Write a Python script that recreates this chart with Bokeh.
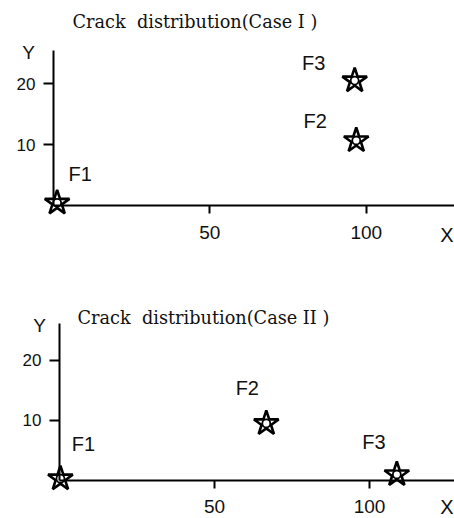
from bokeh.plotting import figure
from bokeh.layouts import column
from bokeh.models import LinearAxis, FixedTicker, Label, ColumnDataSource
from bokeh.core.properties import value
from bokeh.embed import file_html
from bokeh.resources import INLINE

# Crack positions, case I
case1_names = ["F1", "F2", "F3"]
case1_x = [1.2, 96.8, 96.3]
case1_y = [0.5, 10.7, 20.5]

# Crack positions, case II
case2_names = ["F1", "F2", "F3"]
case2_x = [0.3, 66.7, 108.8]
case2_y = [0.3, 9.5, 1.0]

x_ticks = [50, 100]
y_ticks = [10, 20]

SANS = "Liberation Sans"
SERIF = "DejaVu Serif"
INK = "#111111"


def crack_panel(title, names, xs, ys, x_range, y_range, y_axis_top,
                label_dx, label_dy, title_pos, ylab_pos, xlab_pos):
    p = figure(width=454, height=259, x_range=x_range, y_range=y_range,
               x_axis_type=None, y_axis_type=None,
               output_backend="svg", toolbar_location=None,
               min_border=0, outline_line_color=None,
               background_fill_color="white", border_fill_color="white")
    p.grid.visible = False

    xaxis = LinearAxis(fixed_location=0, ticker=FixedTicker(ticks=x_ticks),
                       bounds=(0, x_range[1]))
    yaxis = LinearAxis(fixed_location=0, ticker=FixedTicker(ticks=y_ticks),
                       bounds=(0, y_axis_top))
    for ax in (xaxis, yaxis):
        ax.axis_line_width = 2
        ax.axis_line_color = "black"
        ax.major_tick_line_width = 2
        ax.major_tick_line_color = "black"
        ax.major_tick_in = 0
        ax.minor_tick_line_color = None
        ax.major_label_text_color = INK
        ax.major_label_text_font = SANS
    xaxis.major_tick_out = 8
    xaxis.major_label_standoff = 12
    xaxis.major_label_text_font_size = "19px"
    yaxis.major_tick_out = 10
    yaxis.major_label_standoff = 8
    yaxis.major_label_text_font_size = "17px"
    p.add_layout(xaxis, "below")
    p.add_layout(yaxis, "left")

    src = ColumnDataSource(dict(x=xs, y=ys, name=names,
                                dx=label_dx, dy=label_dy))
    p.scatter("x", "y", source=src, marker="star", size=26,
              fill_color=None, line_color="black", line_width=2.6)
    p.scatter("x", "y", source=src, marker="circle", size=8,
              fill_color=None, line_color="black", line_width=1.8)
    p.text("x", "y", text="name", source=src, x_offset="dx", y_offset="dy",
           text_align="center", text_baseline="middle",
           text_font=value(SANS), text_font_size="20px", text_color=INK)

    p.add_layout(Label(x=title_pos[0], y=title_pos[1], x_units="screen",
                       y_units="screen", text=title, text_font=SERIF,
                       text_font_size="17.7px", text_color=INK,
                       text_baseline="middle", text_align="left"))
    p.add_layout(Label(x=ylab_pos[0], y=ylab_pos[1], x_units="screen",
                       y_units="screen", text="Y", text_font=SANS,
                       text_font_size="19px", text_color=INK,
                       text_baseline="middle", text_align="center"))
    p.add_layout(Label(x=xlab_pos[0], y=xlab_pos[1], x_units="screen",
                       y_units="screen", text="X", text_font=SANS,
                       text_font_size="20px", text_color=INK,
                       text_baseline="middle", text_align="right"))
    return p


top = crack_panel("Crack\u00a0 distribution(Case I )",
                  case1_names, case1_x, case1_y,
                  (-16.9, 128.2), (-8.76, 33.6), 25.4,
                  [23, -41, -41], [-29, -20, -18],
                  (72, 259 - 21), (28, 259 - 52), (453, 259 - 234))

bottom = crack_panel("Crack\u00a0 distribution(Case II )",
                     case2_names, case2_x, case2_y,
                     (-19.03, 127.4), (-6.33, 36.8), 26.2,
                     [23, -19, -23], [-35, -35, -32],
                     (77, 259 - 58), (39, 259 - 66), (453, 259 - 247))

layout = column(top, bottom, spacing=0)
open("out.html", "w").write(file_html(layout, INLINE))
